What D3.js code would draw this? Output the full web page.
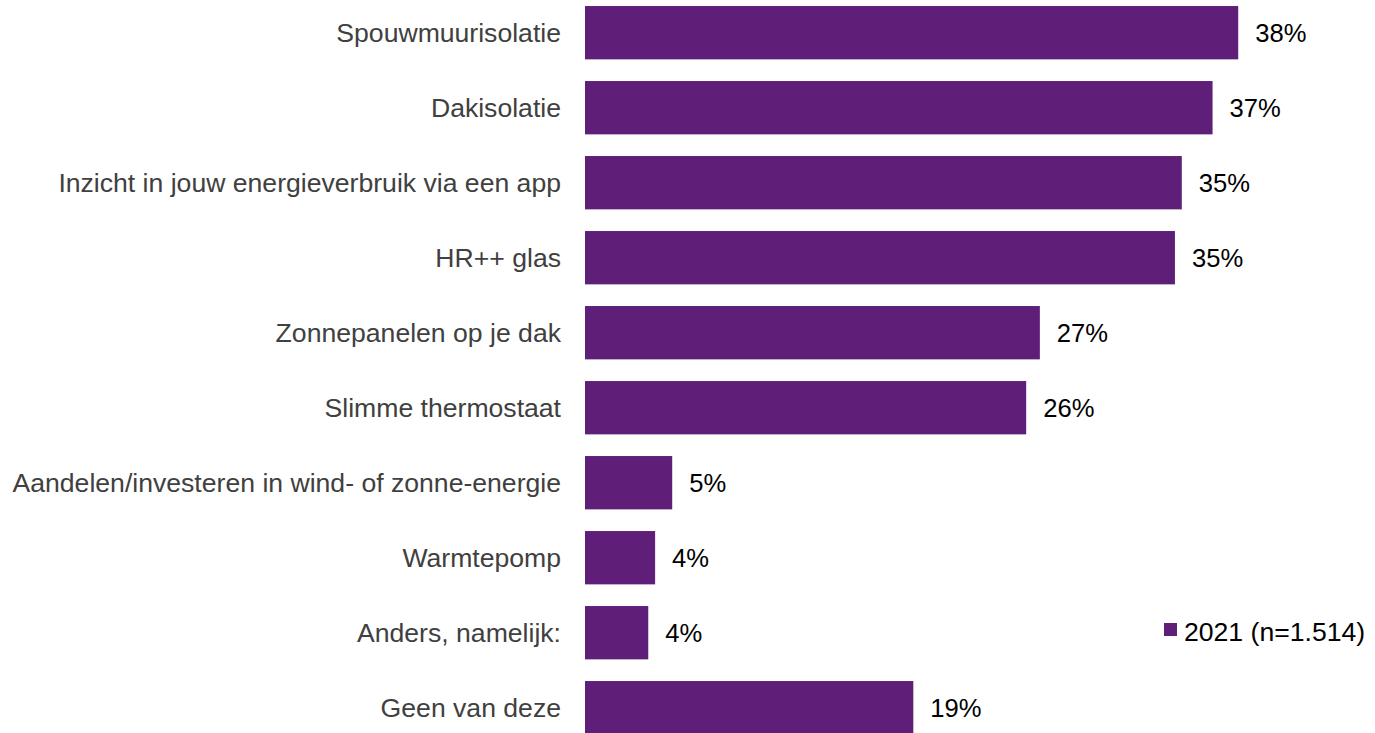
<!DOCTYPE html>
<html lang="nl">
<head>
<meta charset="UTF-8">
<title>Maatregelen</title>
<script src="https://cdn.jsdelivr.net/npm/d3@7"></script>
<style>
  body { margin: 0; background: #fff; }
  svg { display: block; font-family: "Liberation Sans", Arial, sans-serif; }
</style>
</head>
<body>
<svg id="chart" width="1375" height="733"></svg>
<script>
// data
var categories = [
  'Spouwmuurisolatie',
  'Dakisolatie',
  'Inzicht in jouw energieverbruik via een app',
  'HR++ glas',
  'Zonnepanelen op je dak',
  'Slimme thermostaat',
  'Aandelen/investeren in wind- of zonne-energie',
  'Warmtepomp',
  'Anders, namelijk:',
  'Geen van deze'
];
var values = [38.2, 36.7, 34.9, 34.5, 26.6, 25.8, 5.1, 4.1, 3.7, 19.2];
var seriesName = '2021 (n=1.514)';

var svg = d3.select('#chart'),
    barColor = '#5f1f78';

var x = d3.scaleLinear()
    .domain([0, 40])
    .range([585, 585 + 40 * 17.1]);

var y = d3.scaleBand()
    .domain(categories)
    .range([-4.8, 745.2])
    .paddingInner(0.2889)
    .paddingOuter(0.1444);

svg.selectAll('rect.bar')
    .data(values)
    .enter().append('rect')
    .attr('class', 'bar')
    .attr('x', x(0))
    .attr('y', function(d, i) { return y(categories[i]); })
    .attr('width', function(d) { return x(d) - x(0); })
    .attr('height', y.bandwidth())
    .attr('fill', barColor);

// category labels
svg.selectAll('text.cat')
    .data(categories)
    .enter().append('text')
    .attr('class', 'cat')
    .attr('x', x(0) - 24)
    .attr('y', function(d) { return y(d) + y.bandwidth() / 2; })
    .attr('dy', '0.35em')
    .attr('text-anchor', 'end')
    .attr('font-size', 26.6)
    .attr('fill', '#404040')
    .text(function(d) { return d; });

// value labels
svg.selectAll('text.val')
    .data(values)
    .enter().append('text')
    .attr('class', 'val')
    .attr('x', function(d) { return x(d) + 17; })
    .attr('y', function(d, i) { return y(categories[i]) + y.bandwidth() / 2; })
    .attr('dy', '0.35em')
    .attr('font-size', 25.6)
    .attr('fill', '#000')
    .text(function(d) { return Math.round(d) + '%'; });

// legend
var legend = svg.append('g').attr('transform', 'translate(1164,632)');
legend.append('rect')
    .attr('x', 0).attr('y', -9)
    .attr('width', 13).attr('height', 13)
    .attr('fill', barColor);
legend.append('text')
    .attr('x', 20)
    .attr('dy', '0.35em')
    .attr('font-size', 26.6)
    .attr('fill', '#000')
    .text(seriesName);
</script>
</body>
</html>
